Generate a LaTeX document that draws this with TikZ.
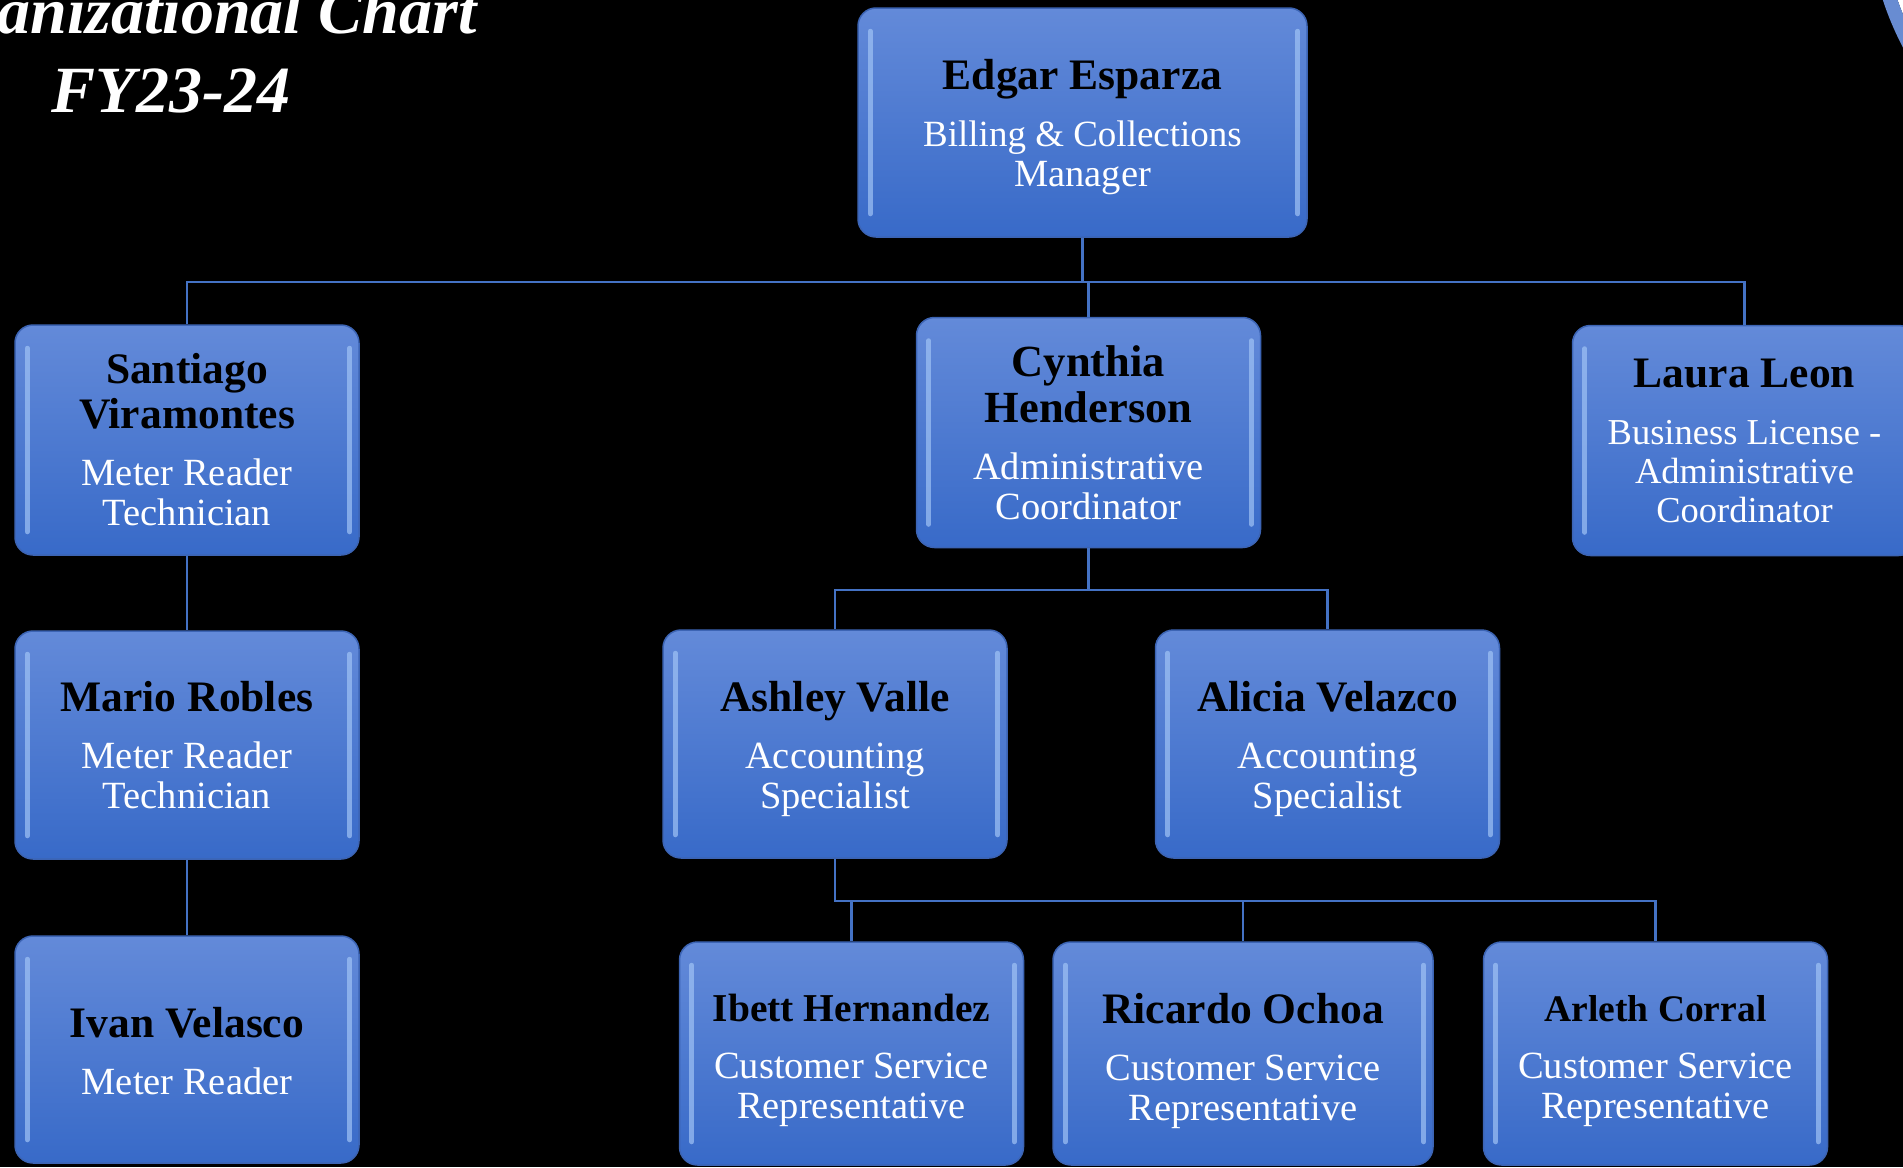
\documentclass[tikz,border=0pt]{standalone}
\usepackage{fontspec}
\setmainfont{Liberation Serif}
\usetikzlibrary{calc}

\definecolor{boxtop}{RGB}{99,138,217}
\definecolor{boxbot}{RGB}{56,106,200}
\definecolor{boxedge}{RGB}{60,100,180}
\definecolor{rimc}{RGB}{160,195,245}
\definecolor{linkc}{RGB}{68,114,196}
\definecolor{ringc}{RGB}{104,140,210}

\newcommand{\who}[1][43.5]{\fontsize{#1}{40}\selectfont\bfseries\color{black}}
\newcommand{\lift}[1]{\rule{0pt}{#1}}

\tikzset{
    member/.style={rounded corners=18pt, draw=boxedge, line width=1.5pt,
        top color=boxtop, bottom color=boxbot, minimum width=344pt,
        minimum height=230pt, inner sep=0pt, align=center, text=white,
        font=\fontsize{38.5}{40}\selectfont},
    rim/.style={draw=rimc, line width=5pt, line cap=round, opacity=0.7},
    link/.style={draw=linkc, line width=2.6pt},
    heading/.style={text=white, font=\fontsize{66}{70}\selectfont\bfseries\itshape}
}

\begin{document}
\begin{tikzpicture}[x=1pt, y=-1pt]
                \fill[black] (0,0) rectangle (1903,1167);
                \useasboundingbox (0,0) rectangle (1903,1167);

                \fill[white] (2183,-99) circle (302);
                \draw[ringc, line width=14pt] (2183,-99) circle (309);

                \node[heading, anchor=base east] (title) at (480,33) {Organizational Chart};
                \node[heading, anchor=base] (year) at (171,112) {FY23-24};

                \node[member, minimum width=449pt, minimum height=229pt] (edgar) at (1082.5,122.5)
                    {{\who\lift{40pt}Edgar Esparza}\\[17pt]{\fontsize{37}{40}\selectfont Billing \& Collections}\\Manager};
                \node[member] (santiago) at (187,440)
                    {{\who Santiago}\\[5pt]{\who Viramontes}\\[17pt]Meter Reader\\Technician};
                \node[member] (cynthia) at (1088.5,432.5)
                    {{\who[44.5] Cynthia}\\[5pt]{\who[44.5] Henderson}\\[17pt]Administrative\\Coordinator};
                \node[member, font=\fontsize{36.5}{39}\selectfont] (laura) at (1744.5,440.5)
                    {{\who Laura Leon}\\[18pt]Business License -\\Administrative\\Coordinator};
                \node[member, minimum height=228pt] (mario) at (187,745)
                    {{\who Mario Robles}\\[17pt]Meter Reader\\Technician};
                \node[member, minimum height=227pt] (ivan) at (187,1049.5)
                    {{\who\lift{33pt}Ivan Velasco}\\[17pt]Meter Reader};
                \node[member, minimum height=228pt] (ashley) at (835,744)
                    {{\who\lift{40pt}Ashley Valle}\\[17pt]Accounting\\Specialist};
                \node[member, minimum height=228pt] (alicia) at (1327.5,744)
                    {{\who\lift{40pt}Alicia Velazco}\\[17pt]Accounting\\Specialist};
                \node[member, minimum height=223pt] (ibett) at (851.5,1053.5)
                    {{\who[39.5]\lift{42pt}Ibett Hernandez}\\[17pt]Customer Service\\Representative};
                \node[member, minimum width=380pt, minimum height=223pt] (ricardo) at (1243,1053.5)
                    {{\who\lift{46pt}Ricardo Ochoa}\\[17pt]Customer Service\\Representative};
                \node[member, minimum height=223pt] (arleth) at (1655.5,1053.5)
                    {{\who[37.5]\lift{41pt}Arleth Corral}\\[17pt]Customer Service\\Representative};

                \foreach \b in {edgar,santiago,cynthia,laura,mario,ivan,ashley,alicia,ibett,ricardo,arleth}
                    \draw[rim] ([shift={(13pt,-24pt)}]\b.north west) -- ([shift={(13pt,24pt)}]\b.south west);
                \foreach \b in {edgar,santiago,cynthia,mario,ivan,ashley,alicia,ibett,ricardo,arleth}
                    \draw[rim] ([shift={(-10pt,-24pt)}]\b.north east) -- ([shift={(-10pt,24pt)}]\b.south east);

                \coordinate (busA) at (0,282);
                \coordinate (busB) at (0,590);
                \coordinate (busC) at (0,901);

                \draw[link] (edgar.south) -- (edgar.south |- busA);
                \draw[link] (santiago.north) |- (laura.north |- busA) -- (laura.north);
                \draw[link] (cynthia.north) -- (cynthia.north |- busA);
                \draw[link] (santiago.south) -- (mario.north);
                \draw[link] (mario.south) -- (ivan.north);
                \draw[link] (cynthia.south) -- (cynthia.south |- busB);
                \draw[link] (ashley.north) |- (alicia.north |- busB) -- (alicia.north);
                \draw[link] (ashley.south) |- (arleth.north |- busC) -- (arleth.north);
                \draw[link] (ibett.north) -- (ibett.north |- busC);
                \draw[link] (ricardo.north) -- (ricardo.north |- busC);
\end{tikzpicture}
\end{document}
